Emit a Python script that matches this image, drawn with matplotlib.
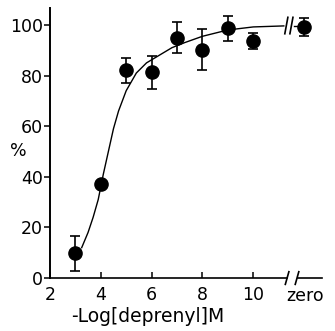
import matplotlib
matplotlib.use("Agg")
import matplotlib.pyplot as plt

conc = [3, 4, 5, 6, 7, 8, 9, 10]
resp = [9.7, 37, 82, 81.2, 95, 90.2, 98.6, 93.6]
err = [6.9, 0, 5, 6.5, 6, 8.2, 4.8, 3.2]
zero_resp = 99.1
zero_err = 3.5

# fitted curve
curve_x = [3.25, 3.5, 3.7, 3.9, 4.1, 4.3, 4.5, 4.7, 5.0, 5.4, 5.8, 6.3, 6.8, 7.3, 8.0, 9.0, 10.0, 11.2]
curve_y = [12, 18, 24, 31, 41, 50, 59, 66, 74, 81, 85, 88, 91, 93, 95.5, 98, 99.2, 99.6]
tail_x = [11.62, 12.0]
tail_y = [99.7, 99.7]

xticks = [2, 4, 6, 8, 10]
yticks = [0, 20, 40, 60, 80, 100]
zero_pos = 12
brk = (11.33, 11.72)

plt.rcParams['font.family'] = ['DejaVu Sans']
fig = plt.figure(figsize=(3.35, 3.31), dpi=100)
ax = fig.add_axes([0.149, 0.160, 0.812, 0.816])

ax.plot(curve_x, curve_y, color='black', lw=1.0)
ax.plot(tail_x, tail_y, color='black', lw=1.0)
ax.errorbar(conc, resp, yerr=err, fmt='o', color='black', ms=9.5,
            capsize=3.5, elinewidth=1.2, capthick=1.2)
ax.errorbar([zero_pos], [zero_resp], yerr=[zero_err], fmt='o', color='black',
            ms=9.5, capsize=3.5, elinewidth=1.2, capthick=1.2)

ax.set_xlim(2, 12.7)
ax.set_ylim(0, 106.7)
for s in ['top', 'right']:
    ax.spines[s].set_visible(False)
ax.spines['left'].set_linewidth(1.4)
ax.spines['bottom'].set_linewidth(1.2)
ax.spines['bottom'].set_bounds(2, brk[0])
ax.plot([brk[1] + 0.03, 12.7], [0, 0], color='black', lw=1.2, clip_on=False)

# break slashes on the axis and on the curve
for b in brk:
    ax.plot([b - 0.07, b + 0.07], [-2.5, 2.5], color='black', lw=1.2, clip_on=False)
for b in (11.3, 11.5):
    ax.plot([b - 0.06, b + 0.06], [96.5, 103], color='black', lw=1.2, clip_on=False)

ax.set_xticks(xticks)
ax.set_yticks(yticks)
ax.tick_params(axis='x', direction='in', length=4, width=1.1, labelsize=12.5, pad=6)
ax.tick_params(axis='y', direction='out', length=4, width=1.1, labelsize=12.5, pad=1)
ax.text(zero_pos + 0.05, -3.6, 'zero', ha='center', va='top', fontsize=12.5)

fig.text(0.055, 0.545, '%', ha='center', va='center', fontsize=12.5)
fig.text(0.44, 0.045, '-Log[deprenyl]M', ha='center', va='center', fontsize=13.5)

fig.savefig('out.png', dpi=100)
